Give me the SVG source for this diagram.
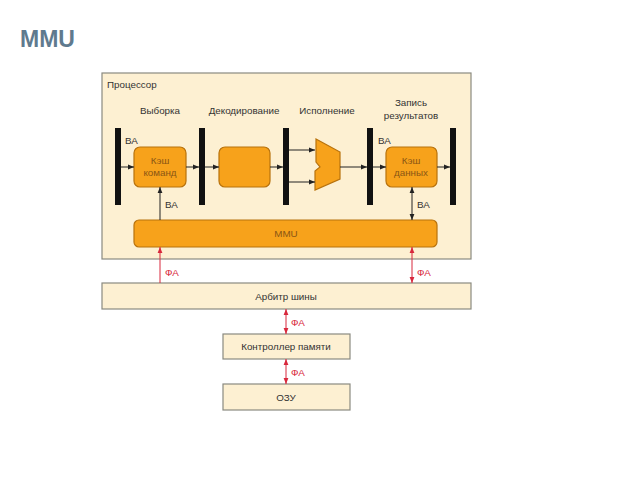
<svg xmlns="http://www.w3.org/2000/svg" width="640" height="480" viewBox="0 0 640 480">
<style>
text{font-family:"Liberation Sans",Arial,sans-serif;fill:#333;font-size:9.8px}
.panel{fill:#fdf0d2;stroke:#8a8a80;stroke-width:1.2}
.org{fill:#f7a21b;stroke:#b8720c;stroke-width:1.2}
.bar{fill:#111}
.ot{fill:#8a5614;text-anchor:middle}
.c{text-anchor:middle}
.red{fill:#d8283c}
.bl{stroke:#222;stroke-width:1;fill:none}
.rl{stroke:#d8283c;stroke-width:1;fill:none}
</style>
<defs>
<marker id="ab" viewBox="0 0 8 8" refX="8" refY="4" markerWidth="6" markerHeight="6" orient="auto-start-reverse" markerUnits="userSpaceOnUse"><path d="M0,0.8 L8,4 L0,7.2 z" fill="#222"/></marker>
<marker id="ar" viewBox="0 0 8 8" refX="8" refY="4" markerWidth="6" markerHeight="6" orient="auto-start-reverse" markerUnits="userSpaceOnUse"><path d="M0,0.8 L8,4 L0,7.2 z" fill="#d8283c"/></marker>
</defs>
<rect width="640" height="480" fill="#fff"/>
<text x="20" y="47" style="font-size:23px;font-weight:bold;fill:#5f7a8e">MMU</text>

<g id="processor">
<rect class="panel" x="102" y="73" width="369" height="186"/>
<text x="107" y="88">Процессор</text>
<text class="c" x="160" y="114">Выборка</text>
<text class="c" x="244" y="114">Декодирование</text>
<text class="c" x="327" y="114">Исполнение</text>
<text class="c" x="411" y="106">Запись</text>
<text class="c" x="411" y="119">результатов</text>
</g>
<g id="bars">
<rect class="bar" x="115" y="128" width="6" height="77"/>
<rect class="bar" x="199" y="128" width="6" height="77"/>
<rect class="bar" x="283" y="128" width="6" height="77"/>
<rect class="bar" x="367" y="128" width="6" height="77"/>
<rect class="bar" x="450" y="128" width="6" height="77"/>
</g>
<g id="icache">
<rect class="org" x="134" y="147" width="52" height="40" rx="6"/>
<text class="ot" x="160" y="164">Кэш</text>
<text class="ot" x="160" y="176">команд</text>
</g>
<g id="decoder">
<rect class="org" x="219" y="147" width="51" height="40" rx="6"/>
</g>
<g id="alu">
<path class="org" d="M316,139 L340,152 L340,179 L315,190 L315,171 L320,167 L316,162 Z"/>
</g>
<g id="dcache">
<rect class="org" x="386" y="147" width="51" height="40" rx="6"/>
<text class="ot" x="411" y="164">Кэш</text>
<text class="ot" x="411" y="176">данных</text>
</g>
<g id="mmu">
<rect class="org" x="134" y="220" width="303" height="27" rx="5"/>
<text class="ot" x="286" y="237">MMU</text>
</g>
<g id="arbiter">
<rect class="panel" x="102" y="283" width="369" height="26"/>
<text class="c" x="286" y="300">Арбитр шины</text>
</g>
<g id="memctrl">
<rect class="panel" x="223" y="334" width="127" height="25"/>
<text class="c" x="286" y="350">Контроллер памяти</text>
</g>
<g id="ram">
<rect class="panel" x="223" y="384" width="127" height="26"/>
<text class="c" x="286" y="401">ОЗУ</text>
</g>
<g id="connectors">
<line class="bl" x1="121" y1="167" x2="134" y2="167" marker-end="url(#ab)"/>
<line class="bl" x1="186" y1="167" x2="199" y2="167" marker-end="url(#ab)"/>
<line class="bl" x1="205" y1="167" x2="219" y2="167" marker-end="url(#ab)"/>
<line class="bl" x1="270" y1="167" x2="283" y2="167" marker-end="url(#ab)"/>
<line class="bl" x1="289" y1="150" x2="315" y2="150" marker-end="url(#ab)"/>
<line class="bl" x1="289" y1="182" x2="315" y2="182" marker-end="url(#ab)"/>
<line class="bl" x1="340" y1="167" x2="367" y2="167" marker-end="url(#ab)"/>
<line class="bl" x1="373" y1="167" x2="386" y2="167" marker-end="url(#ab)"/>
<line class="bl" x1="437" y1="167" x2="450" y2="167" marker-end="url(#ab)"/>
<line class="bl" x1="160" y1="220" x2="160" y2="187" marker-end="url(#ab)"/>
<line class="bl" x1="412" y1="220" x2="412" y2="187" marker-start="url(#ab)" marker-end="url(#ab)"/>
<line class="rl" x1="160" y1="283" x2="160" y2="247" marker-end="url(#ar)"/>
<line class="rl" x1="412" y1="283" x2="412" y2="247" marker-start="url(#ar)" marker-end="url(#ar)"/>
<line class="rl" x1="286" y1="334" x2="286" y2="309" marker-start="url(#ar)" marker-end="url(#ar)"/>
<line class="rl" x1="286" y1="384" x2="286" y2="359" marker-start="url(#ar)" marker-end="url(#ar)"/>
<text x="125" y="144">ВА</text>
<text x="378" y="144">ВА</text>
<text x="165" y="208">ВА</text>
<text x="417" y="208">ВА</text>
<text class="red" x="165" y="276">ФА</text>
<text class="red" x="417" y="276">ФА</text>
<text class="red" x="291" y="326">ФА</text>
<text class="red" x="291" y="376">ФА</text>
</g>
</svg>
